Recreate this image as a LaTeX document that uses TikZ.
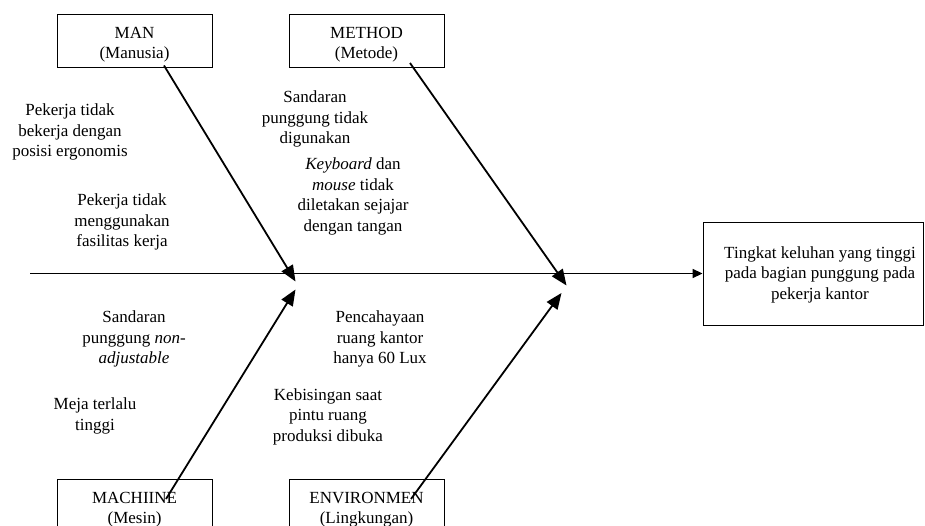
\documentclass[tikz,border=0pt]{standalone}
\usepackage{fontspec}
\setmainfont{Liberation Serif}
\usetikzlibrary{arrows.meta}
\newcommand{\boxtext}[2]{\begin{tabular}{@{}c@{}}\rule{0pt}{22pt}#1\\#2\end{tabular}}
\tikzset{
  catbox/.style={draw=black, line width=0.9pt, minimum width=155pt, minimum height=53pt, inner sep=0pt, align=center, font=\fontsize{17}{20.5}\selectfont},
  cause/.style={inner sep=0pt, align=center, font=\fontsize{17}{20.5}\selectfont},
  bone/.style={line width=1.8pt, -{Triangle[length=16pt,width=13pt]}},
  spine/.style={line width=1.6pt, -{Triangle[length=10pt,width=9pt]}}
}
\begin{document}
\begin{tikzpicture}[x=1pt,y=-1pt]
\clip (0,0) rectangle (925,526);
\fill[white] (0,0) rectangle (925,526);
% category boxes
\node[catbox] (man) at (134.5,40.5) {\boxtext{MAN}{(Manusia)}};
\node[catbox] (method) at (366.5,40.5) {\boxtext{METHOD}{(Metode)}};
\node[catbox] (machine) at (134.5,505.5) {\boxtext{MACHIINE}{(Mesin)}};
\node[catbox] (env) at (366.5,505.5) {\boxtext{ENVIRONMEN}{(Lingkungan)}};
% result box
\node[draw=black, line width=0.9pt, minimum width=220pt, minimum height=103pt, inner sep=0pt] (res) at (813,273.5) {};
\node[cause] (restext) at (820,274.5) {Tingkat keluhan yang tinggi\\pada bagian punggung pada\\pekerja kantor};
% causes
\node[cause] (c1) at (70,132) {Pekerja tidak\\bekerja dengan\\posisi ergonomis};
\node[cause] (c2) at (122,222) {Pekerja tidak\\menggunakan\\fasilitas kerja};
\node[cause] (c3) at (315,119) {Sandaran\\punggung tidak\\digunakan};
\node[cause] (c4) at (353,196.5) {\textit{Keyboard} dan\\\textit{mouse} tidak\\diletakan sejajar\\dengan tangan};
\node[cause] (c5) at (134,339) {Sandaran\\punggung \textit{non-}\\\textit{adjustable}};
\node[cause] (c6) at (95,416) {Meja terlalu\\tinggi};
\node[cause] (c7) at (380,339) {Pencahayaan\\ruang kantor\\hanya 60 Lux};
\node[cause] (c8) at (328,416.5) {Kebisingan saat\\pintu ruang\\produksi dibuka};
% connector endpoints
\coordinate (spinestart) at (30,273.5);
\coordinate (manfrom) at (164,65.5);
\coordinate (mettfrom) at (410,63);
\coordinate (machfrom) at (166,499);
\coordinate (envfrom) at (411,499);
\coordinate (tip1) at (295.5,281.5);
\coordinate (tip2) at (295.5,289.5);
\coordinate (tip3) at (566.5,285.5);
\coordinate (tip4) at (561.5,293);
% spine
\draw[spine] (spinestart) -- (res.west);
% bones
\draw[bone] (manfrom) -- (tip1);
\draw[bone] (machfrom) -- (tip2);
\draw[bone] (mettfrom) -- (tip3);
\draw[bone] (envfrom) -- (tip4);
\end{tikzpicture}
\end{document}
